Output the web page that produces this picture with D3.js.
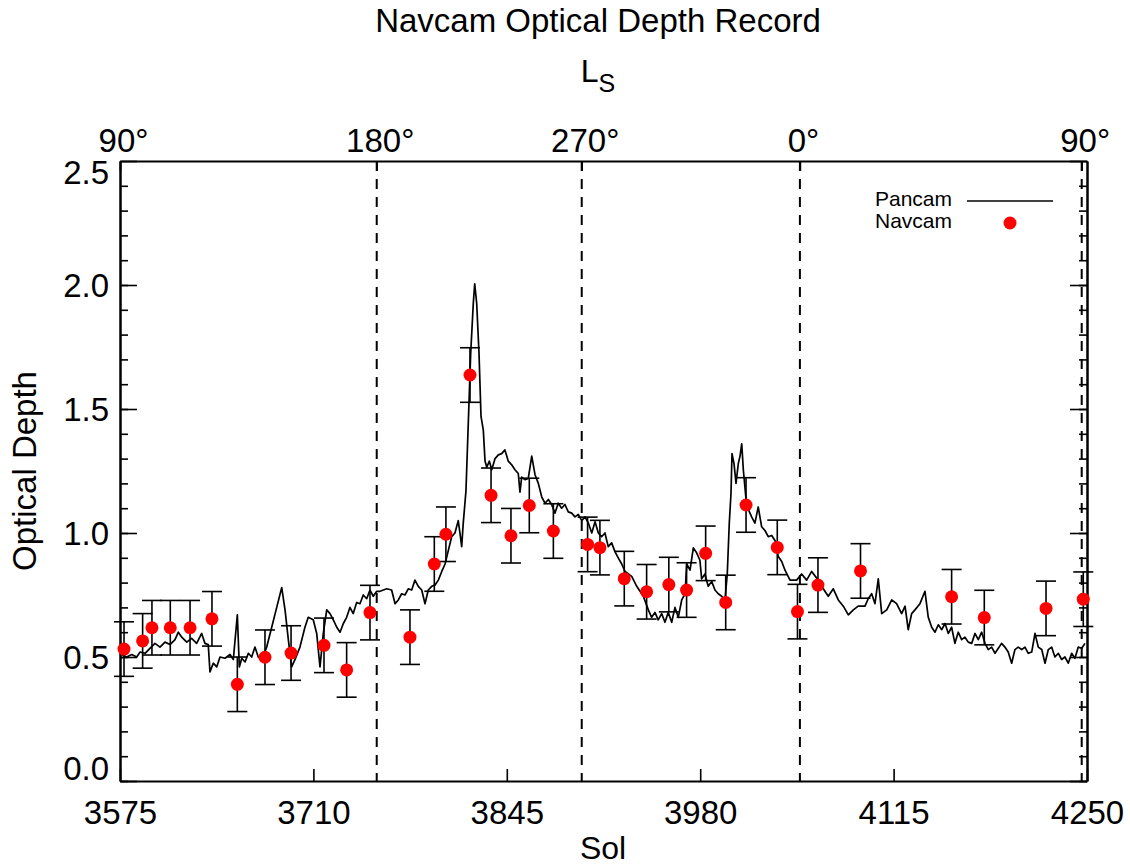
<!DOCTYPE html>
<html>
<head>
<meta charset="utf-8">
<script src="https://cdn.jsdelivr.net/npm/d3@7"></script>
<style>
  html, body { margin: 0; padding: 0; background: #ffffff; }
  svg { display: block; font-family: "Liberation Sans", Arial, Helvetica, sans-serif; }
</style>
</head>
<body>
<svg id="chart" width="1130" height="867"></svg>
<script>
// ---------------- data ----------------
const solTicks = [3575, 3710, 3845, 3980, 4115, 4250];
const depthTicks = [0.0, 0.5, 1.0, 1.5, 2.0, 2.5];
const depthMinorTicks = d3.range(0, 25).map(i => i / 10);
const lsTickSols = [3575, 3754.2, 3897.3, 4049.6, 4246.3];
const lsTickLabels = ["90°", "180°", "270°", "0°", "90°"];
const seasonLineSols = [3754.2, 3897.3, 4049.6, 4246.3];

const navcamSol = [3577.8, 3590.8, 3597.3, 3610.1, 3623.9, 3639.2, 3656.9, 3676.2, 3694.4, 3717.4,
  3733.2, 3749.5, 3777.4, 3794.4, 3802.5, 3819.3, 3834.0, 3847.9, 3860.7, 3877.5,
  3901.4, 3910.0, 3927.0, 3942.6, 3958.1, 3970.5, 3983.8, 3997.8, 4012.0, 4033.8,
  4047.9, 4062.2, 4091.9, 4155.5, 4178.3, 4221.4, 4247.4];
const navcamTau = [0.532, 0.565, 0.618, 0.618, 0.618, 0.654, 0.390, 0.499, 0.516, 0.547,
  0.448, 0.679, 0.580, 0.875, 0.995, 1.637, 1.152, 0.989, 1.111, 1.008,
  0.954, 0.941, 0.816, 0.763, 0.792, 0.770, 0.918, 0.720, 1.113, 0.942,
  0.683, 0.790, 0.847, 0.743, 0.659, 0.696, 0.733];
const navcamErr = [0.11, 0.11, 0.11, 0.11, 0.11, 0.11, 0.11, 0.11, 0.11, 0.11,
  0.11, 0.11, 0.11, 0.11, 0.11, 0.11, 0.11, 0.11, 0.11, 0.11,
  0.11, 0.11, 0.11, 0.11, 0.11, 0.11, 0.11, 0.11, 0.11, 0.11,
  0.11, 0.11, 0.11, 0.11, 0.11, 0.11, 0.11];

const pancamSol = [
  3576.2, 3579.7, 3583.2, 3586.7, 3589.0, 3592.5, 3595.9, 3599.4, 3602.9, 3606.4,
  3609.9, 3613.4, 3615.7, 3618.1, 3621.6, 3625.0, 3628.5, 3632.0, 3634.3, 3636.6,
  3637.8, 3640.1, 3642.5, 3644.8, 3648.3, 3651.8, 3654.1, 3656.9, 3658.3, 3660.0,
  3662.3, 3664.6, 3666.9, 3669.2, 3671.5, 3673.9, 3677.4, 3680.9, 3684.4, 3687.9,
  3690.2, 3692.5, 3694.8, 3697.2, 3700.6, 3704.1, 3706.4, 3709.9, 3712.3, 3714.6,
  3716.9, 3719.3, 3721.6, 3723.9, 3726.3, 3728.6, 3730.9, 3733.2, 3735.5, 3737.8,
  3740.2, 3742.5, 3744.8, 3747.2, 3749.5, 3751.8, 3754.2,
  3756.5, 3761.2, 3764.6, 3767.0, 3769.3, 3771.6, 3773.9, 3776.2, 3778.6, 3780.9,
  3783.2, 3785.6, 3787.9, 3790.2, 3792.6, 3794.9, 3797.2, 3799.6, 3801.9, 3804.2,
  3806.5, 3808.8, 3811.1, 3812.3, 3813.5, 3814.6, 3816.5, 3818.1, 3819.8, 3821.6,
  3822.6, 3824.0, 3825.6, 3827.0, 3828.6, 3829.8, 3831.0, 3832.8, 3834.5, 3836.8,
  3839.1, 3841.4, 3843.7, 3846.0, 3848.4, 3850.7, 3853.0, 3854.2, 3855.4, 3857.7,
  3860.0, 3862.4, 3864.7, 3867.0, 3869.4, 3871.7, 3874.0, 3876.3, 3878.6, 3880.9,
  3883.3, 3885.6, 3887.9, 3890.3, 3892.6, 3894.9, 3897.3, 3899.6, 3901.9, 3904.3,
  3906.6, 3908.9, 3911.2, 3913.5, 3915.8, 3918.2, 3920.5, 3922.8, 3925.2, 3927.5,
  3932.2, 3935.7, 3940.3, 3943.8, 3946.1, 3948.4, 3950.7, 3953.1, 3955.4, 3957.7,
  3960.1, 3962.4, 3964.7, 3967.1, 3969.4, 3970.6, 3972.9, 3975.2, 3977.5, 3979.8,
  3981.0, 3983.3, 3985.6, 3988.0, 3990.3, 3992.6, 3995.0, 3997.3, 3998.9, 4000.3,
  4001.5, 4002.2, 4003.6, 4005.0, 4006.6, 4007.8, 4009.0, 4010.1, 4012.0, 4013.6,
  4015.9, 4018.2, 4020.5, 4022.9, 4025.2, 4027.5, 4029.9, 4032.2, 4034.5, 4036.9,
  4039.2, 4042.7, 4047.3, 4050.8, 4054.3, 4057.8, 4062.4, 4065.9, 4069.4, 4072.9,
  4076.4, 4079.9, 4083.4, 4086.9, 4090.3, 4095.0, 4097.3, 4099.7, 4102.0, 4104.3,
  4106.7, 4110.2, 4113.7, 4117.1, 4120.6, 4123.0, 4125.2, 4127.6, 4129.9, 4133.4,
  4136.9, 4139.2, 4141.6, 4143.9, 4146.2, 4148.6, 4150.9, 4153.2, 4155.5, 4157.8,
  4160.1, 4162.5, 4164.8, 4167.1, 4169.5, 4171.8, 4174.1, 4176.5, 4178.8, 4181.1,
  4183.4, 4185.8, 4188.1, 4190.4, 4192.7, 4195.0, 4197.4, 4199.7, 4202.0, 4204.4,
  4206.7, 4209.0, 4211.4, 4213.7, 4216.0, 4218.4, 4220.7, 4223.0, 4225.3, 4227.6,
  4230.0, 4232.3, 4234.6, 4236.9, 4239.3, 4241.6, 4243.9, 4246.3, 4248.6];
const pancamTau = [
  0.51, 0.50, 0.51, 0.50, 0.52, 0.515, 0.535, 0.555, 0.54, 0.56,
  0.55, 0.57, 0.60, 0.58, 0.56, 0.575, 0.555, 0.595, 0.555, 0.55,
  0.44, 0.475, 0.46, 0.50, 0.495, 0.51, 0.49, 0.67, 0.46, 0.495,
  0.48, 0.515, 0.50, 0.54, 0.50, 0.49, 0.54, 0.62, 0.70, 0.78,
  0.69, 0.57, 0.46, 0.49, 0.54, 0.62, 0.66, 0.65, 0.595, 0.46,
  0.595, 0.69, 0.675, 0.65, 0.62, 0.60, 0.635, 0.66, 0.70, 0.675,
  0.72, 0.715, 0.75, 0.735, 0.77, 0.745, 0.765,
  0.765, 0.775, 0.77, 0.715, 0.73, 0.755, 0.75, 0.775, 0.77, 0.81,
  0.785, 0.77, 0.715, 0.77, 0.785, 0.79, 0.81, 0.845, 0.875, 0.93,
  0.985, 1.00, 1.05, 1.00, 0.945, 1.04, 1.17, 1.44, 1.725, 1.925,
  2.005, 1.925, 1.725, 1.47, 1.415, 1.29, 1.265, 1.29, 1.255, 1.30,
  1.315, 1.32, 1.335, 1.29, 1.275, 1.255, 1.24, 1.165, 1.225, 1.215,
  1.22, 1.31, 1.235, 1.20, 1.145, 1.12, 1.135, 1.115, 1.08, 1.12,
  1.10, 1.115, 1.085, 1.08, 1.065, 1.075, 1.05, 1.065, 1.04, 1.00,
  1.045, 1.00, 0.985, 1.00, 0.945, 0.96, 0.925, 0.90, 0.875, 0.845,
  0.825, 0.785, 0.745, 0.69, 0.66, 0.68, 0.65, 0.675, 0.64, 0.68,
  0.64, 0.70, 0.66, 0.73, 0.755, 0.875, 0.85, 0.94, 0.92, 0.89,
  0.815, 0.835, 0.785, 0.805, 0.77, 0.755, 0.745, 0.73, 0.835, 1.04,
  1.16, 1.32, 1.28, 1.20, 1.28, 1.31, 1.36, 1.255, 1.135, 1.095,
  1.065, 1.04, 1.105, 1.025, 1.01, 0.985, 0.99, 0.97, 0.905, 0.885,
  0.85, 0.81, 0.81, 0.835, 0.81, 0.845, 0.81, 0.775, 0.745, 0.775,
  0.73, 0.705, 0.67, 0.69, 0.705, 0.705, 0.735, 0.755, 0.715, 0.815,
  0.675, 0.69, 0.73, 0.715, 0.675, 0.705, 0.61, 0.675, 0.69, 0.715,
  0.765, 0.66, 0.62, 0.60, 0.63, 0.61, 0.635, 0.595, 0.62, 0.555,
  0.60, 0.57, 0.58, 0.56, 0.555, 0.595, 0.57, 0.60, 0.555, 0.53,
  0.54, 0.515, 0.535, 0.555, 0.54, 0.52, 0.475, 0.53, 0.54, 0.53,
  0.54, 0.515, 0.52, 0.595, 0.54, 0.53, 0.475, 0.53, 0.54, 0.50,
  0.515, 0.49, 0.50, 0.475, 0.515, 0.495, 0.54, 0.535, 0.555];

// ---------------- layout ----------------
const L = 120, R = 1087, T = 161, B = 781;
const FONT = 33;

const svg = d3.select("#chart");
const x = d3.scaleLinear().domain([3575, 4250]).range([L, R]);
const y = d3.scaleLinear().domain([0, 2.5]).range([B, T]);

function styleAxis(g) {
  g.selectAll("path.domain").attr("stroke", "#000").attr("stroke-width", 2);
  g.selectAll(".tick line").attr("stroke", "#000").attr("stroke-width", 1.6);
  g.selectAll("text").attr("fill", "#000").attr("font-size", FONT)
    .attr("font-family", "'Liberation Sans', Arial, Helvetica, sans-serif");
}

// season dashed lines
svg.append("g").selectAll("line").data(seasonLineSols).join("line")
  .attr("x1", d => x(d)).attr("x2", d => x(d))
  .attr("y1", T).attr("y2", B)
  .attr("stroke", "#000").attr("stroke-width", 2)
  .attr("stroke-dasharray", "10,8");

// left minor ticks
svg.append("g").attr("transform", `translate(${L},0)`)
  .call(d3.axisLeft(y).tickValues(depthMinorTicks).tickSize(-8).tickSizeOuter(0).tickFormat(""))
  .call(styleAxis);
// left major
const leftAx = svg.append("g").attr("transform", `translate(${L},0)`)
  .call(d3.axisLeft(y).tickValues(depthTicks).tickSize(-17).tickSizeOuter(0).tickPadding(11)
    .tickFormat(d3.format(".1f")))
  .call(styleAxis);
// keep the end labels inside the axis range (as in the original plot)
leftAx.selectAll(".tick text").attr("dy", d => d === 0 ? "-0.04em" : (d === 2.5 ? "0.68em" : "0.34em"));

// right axis
svg.append("g").attr("transform", `translate(${R},0)`)
  .call(d3.axisRight(y).tickValues(depthMinorTicks).tickSize(-8).tickSizeOuter(0).tickFormat(""))
  .call(styleAxis);
svg.append("g").attr("transform", `translate(${R},0)`)
  .call(d3.axisRight(y).tickValues(depthTicks).tickSize(-17).tickSizeOuter(0).tickFormat(""))
  .call(styleAxis);
// bottom axis
svg.append("g").attr("transform", `translate(0,${B})`)
  .call(d3.axisBottom(x).tickValues(solTicks).tickSize(-12).tickSizeOuter(0).tickPadding(20)
    .tickFormat(d3.format("d")))
  .call(styleAxis);
// top axis (Ls)
const topAx = svg.append("g").attr("transform", `translate(0,${T})`)
  .call(d3.axisTop(x).tickValues(lsTickSols).tickSize(-10).tickSizeOuter(0).tickPadding(9)
    .tickFormat((d, i) => lsTickLabels[i]))
  .call(styleAxis);
topAx.selectAll("text").attr("dx", 3);

// pancam line
const line = d3.line().x(d => x(d[0])).y(d => y(d[1]));
svg.append("path")
  .datum(pancamSol.map((s, i) => [s, pancamTau[i]]))
  .attr("d", line)
  .attr("fill", "none").attr("stroke", "#000").attr("stroke-width", 1.7)
  .attr("stroke-linejoin", "round");

// error bars
const nav = navcamSol.map((s, i) => ({ s, t: navcamTau[i], e: navcamErr[i] }));
const eb = svg.append("g").attr("stroke", "#000").attr("stroke-width", 1.6);
eb.selectAll("line.v").data(nav).join("line").attr("class", "v")
  .attr("x1", d => x(d.s)).attr("x2", d => x(d.s))
  .attr("y1", d => y(d.t + d.e)).attr("y2", d => y(d.t - d.e));
eb.selectAll("line.ct").data(nav).join("line").attr("class", "ct")
  .attr("x1", d => x(d.s) - 10).attr("x2", d => x(d.s) + 10)
  .attr("y1", d => y(d.t + d.e)).attr("y2", d => y(d.t + d.e));
eb.selectAll("line.cb").data(nav).join("line").attr("class", "cb")
  .attr("x1", d => x(d.s) - 10).attr("x2", d => x(d.s) + 10)
  .attr("y1", d => y(d.t - d.e)).attr("y2", d => y(d.t - d.e));

// navcam dots
svg.append("g").selectAll("circle").data(nav).join("circle")
  .attr("cx", d => x(d.s)).attr("cy", d => y(d.t)).attr("r", 6.5)
  .attr("fill", "#ff0000");

// titles
svg.append("text").attr("x", 598).attr("y", 32).attr("text-anchor", "middle")
  .attr("font-size", FONT).text("Navcam Optical Depth Record");
const ls = svg.append("text").attr("x", 598).attr("y", 82).attr("text-anchor", "middle")
  .attr("font-size", 32);
ls.append("tspan").text("L");
ls.append("tspan").attr("font-size", 25).attr("dy", 10).text("S");

svg.append("text").attr("x", 603).attr("y", 859).attr("text-anchor", "middle")
  .attr("font-size", 32).text("Sol");
svg.append("text").attr("transform", `translate(36,${(T + B) / 2}) rotate(-90)`)
  .attr("text-anchor", "middle").attr("font-size", FONT).text("Optical Depth");

// legend
const lg = svg.append("g");
lg.append("text").attr("x", 952).attr("y", 206).attr("text-anchor", "end")
  .attr("font-size", 21).text("Pancam");
lg.append("line").attr("x1", 967).attr("x2", 1053).attr("y1", 201).attr("y2", 201)
  .attr("stroke", "#000").attr("stroke-width", 1.7);
lg.append("text").attr("x", 952).attr("y", 228).attr("text-anchor", "end")
  .attr("font-size", 21).text("Navcam");
lg.append("circle").attr("cx", 1010).attr("cy", 223).attr("r", 6.5).attr("fill", "#ff0000");
</script>
</body>
</html>
